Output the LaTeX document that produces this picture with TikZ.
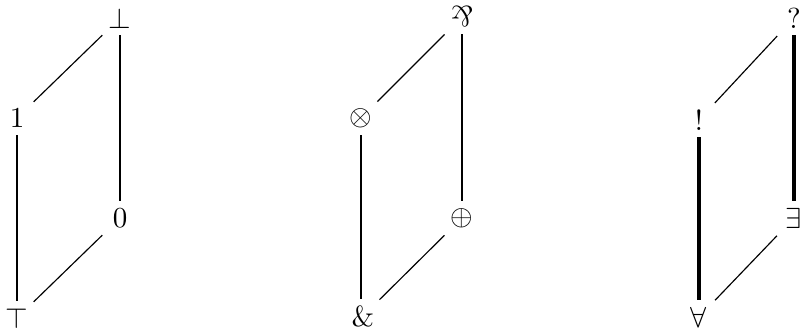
\documentclass[tikz,border=0pt]{standalone}
\usepackage{graphicx}
\tikzset{
  lbl/.style={inner sep=0pt, anchor=center},
  vline/.style={line width=0.75pt, shorten <=6pt, shorten >=6pt},
  vthick/.style={line width=1.05pt, shorten <=6pt, shorten >=6pt},
  dline/.style={line width=0.4pt, shorten <=8pt, shorten >=8.5pt},
}
\begin{document}
\begin{tikzpicture}[x=0.345pt, y=-0.345pt]
\useasboundingbox (0,0) rectangle (802,329);
% diagram 1
\node[lbl] (bot) at (120,18) {$\bot$};
\node[lbl] (one) at (17,118) {$1$};
\node[lbl] (zero) at (120,218) {$0$};
\node[lbl] (top) at (17,318) {$\top$};
\draw[vline] (one.center) -- (top.center);
\draw[vline] (bot.center) -- (zero.center);
\draw[dline] (one.center) -- (bot.center);
\draw[dline] (top.center) -- (zero.center);
% diagram 2
\node[lbl] (par) at (462,17) {\rotatebox[origin=c]{180}{\&}};
\node[lbl] (tens) at (361,118) {$\otimes$};
\node[lbl] (plus) at (462,218) {$\oplus$};
\node[lbl] (with) at (363,316) {\&};
\draw[vline] (tens.center) -- (tens.center |- with.center);
\draw[vline] (par.center) -- (plus.center);
\draw[dline] (tens.center) -- (par.center);
\draw[dline] (with.center) -- (plus.center);
% diagram 3
\node[lbl] (why) at (794,18) {?};
\node[lbl] (bang) at (699,120) {!};
\node[lbl] (ex) at (794,218) {$\exists$};
\node[lbl] (fa) at (699,317) {$\forall$};
\draw[vthick] (bang.center) -- (fa.center);
\draw[vthick] (why.center) -- (ex.center);
\draw[dline] (bang.center) -- (why.center);
\draw[dline] (fa.center) -- (ex.center);
\end{tikzpicture}
\end{document}
